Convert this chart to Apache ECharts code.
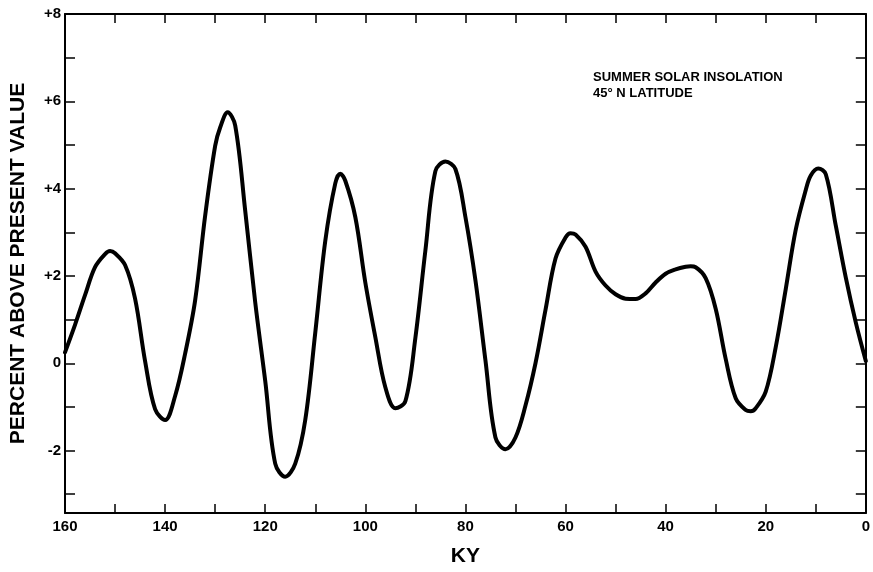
<!DOCTYPE html>
<html>
<head>
<meta charset="utf-8">
<script src="https://cdn.jsdelivr.net/npm/echarts@6/dist/echarts.min.js"></script>
<style>
html,body{margin:0;padding:0;background:#fff;}
#chart{width:873px;height:572px;}
</style>
</head>
<body>
<div id="chart"></div>
<script>
// Age (thousand years before present) and insolation anomaly (%)
const ageKy = [160,158,156,154,152,151,150,148,146,144,142,140,138,136,134,132,130,129,127.5,126,124,122,120,118,116,114,112,110,108,106,105,104,102,100,98,96,94,92,90,88,86,84,82,80,78,76,74,72,70,68,66,64,62,60,59,58,56,54,52,50,48,46,44,42,40,38,36,35,34,32,30,28,26,24,23,22,20,18,16,14,12,11,9.5,8,6,4,2,0];
const percent = [0.25,0.88,1.56,2.2,2.5,2.57,2.52,2.25,1.48,0.05,-1.05,-1.3,-0.75,0.22,1.44,3.38,4.98,5.4,5.75,5.45,3.5,1.4,-0.4,-2.3,-2.6,-2.3,-1.3,0.7,2.8,4.12,4.34,4.18,3.35,1.85,0.6,-0.55,-1.03,-0.87,0.58,2.58,4.4,4.62,4.45,3.35,1.9,0.07,-1.7,-1.97,-1.7,-0.97,0.0,1.22,2.4,2.88,2.98,2.95,2.67,2.1,1.78,1.58,1.48,1.47,1.6,1.85,2.05,2.15,2.21,2.22,2.2,1.95,1.25,0.1,-0.8,-1.07,-1.1,-1.03,-0.65,0.37,1.7,3.06,3.97,4.3,4.46,4.33,3.15,1.96,0.93,0.05];
const yTickValues = [-3,-2,-1,0,1,2,3,4,5,6,7,8];
const yLabelValues = [-2,0,2,4,6,8];
const titleLines = ['SUMMER SOLAR INSOLATION','45° N LATITUDE'];
const yAxisName = 'PERCENT ABOVE PRESENT VALUE';
const xAxisName = 'KY';

const font = 'Liberation Sans, Arial, Helvetica, sans-serif';
const chart = echarts.init(document.getElementById('chart'), null, {renderer:'canvas'});
const lineStyle = {color:'#000', width:2};
const xBase = {
  type:'value', min:0, max:160, interval:10, inverse:true,
  axisLine:{show:true, onZero:false, lineStyle},
  axisTick:{show:true, inside:true, length:9, lineStyle:{color:'#000', width:1.5}},
  splitLine:{show:false}
};
const yBase = {
  type:'value', min:-3.43, max:8,
  axisLine:{show:true, onZero:false, lineStyle},
  axisTick:{show:true, inside:true, length:10, customValues:yTickValues, lineStyle:{color:'#000', width:1.5}},
  splitLine:{show:false}
};
chart.setOption({
  animation:false,
  backgroundColor:'#fff',
  grid:{left:65, right:7, top:14, bottom:55, containLabel:false},
  title:{
    text: titleLines.join('\n'),
    left:588, top:64,
    textStyle:{fontFamily:font, fontWeight:'bold', fontSize:13, color:'#000', lineHeight:16}
  },
  xAxis:[
    Object.assign({}, xBase, {
      position:'bottom',
      axisLabel:{show:true, margin:6, color:'#000', fontFamily:font, fontWeight:'bold', fontSize:15,
        formatter:v => (v % 20 === 0 ? String(v) : '')},
      name:xAxisName, nameLocation:'middle', nameGap:33,
      nameTextStyle:{fontFamily:font, fontWeight:'bold', fontSize:21, color:'#000'}
    }),
    Object.assign({}, xBase, {position:'top', axisLabel:{show:false}})
  ],
  yAxis:[
    Object.assign({}, yBase, {
      position:'left',
      axisLabel:{show:true, margin:4, color:'#000', fontFamily:font, fontWeight:'bold', fontSize:15,
        customValues:yLabelValues,
        formatter:v => (v > 0 ? '+' + v : String(v))},
      name:yAxisName, nameLocation:'middle', nameGap:36, nameRotate:90,
      nameTextStyle:{fontFamily:font, fontWeight:'bold', fontSize:21, color:'#000'}
    }),
    Object.assign({}, yBase, {position:'right', axisLabel:{show:false}})
  ],
  series:[{
    type:'line', xAxisIndex:0, yAxisIndex:0,
    data: ageKy.map((k,i) => [k, percent[i]]),
    smooth:0.35, showSymbol:false, symbol:'none',
    lineStyle:{color:'#000', width:4, cap:'round', join:'round'}
  }]
});
</script>
</body>
</html>
